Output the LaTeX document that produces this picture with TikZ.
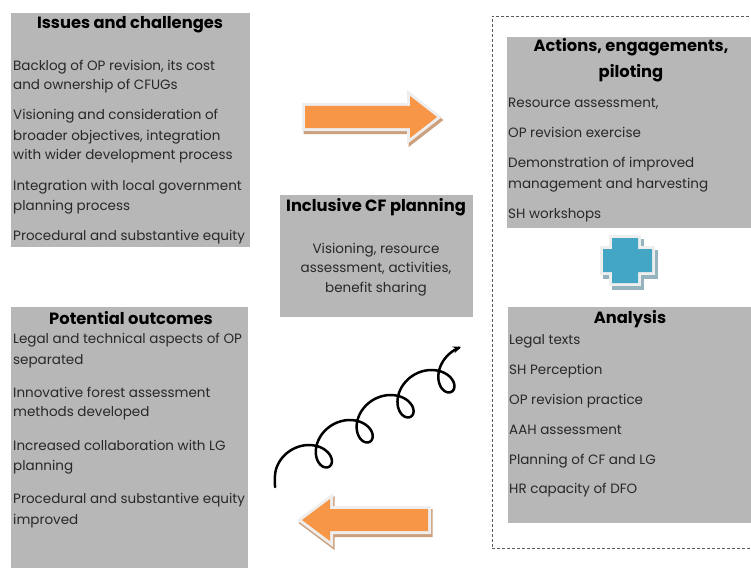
\documentclass[tikz,border=0pt]{standalone}
\usepackage{fontspec}
\setmainfont{Poppins}
\usetikzlibrary{arrows.meta}

\definecolor{boxgray}{RGB}{183,183,183}
\definecolor{txtgray}{RGB}{40,40,40}
\definecolor{arroworange}{RGB}{247,150,70}
\definecolor{arrowshade}{RGB}{205,160,125}
\definecolor{rimgray}{RGB}{238,238,238}
\definecolor{crossblue}{RGB}{66,166,196}
\definecolor{crossshade}{RGB}{150,180,190}
\definecolor{framegray}{RGB}{90,90,90}

\tikzset{
  panel/.style={fill=boxgray, draw=none, inner sep=0pt, anchor=north west},
  paneltitle/.style={font=\bfseries\fontsize{16.3}{18}\selectfont, text=black, inner sep=0pt},
  paneltext/.style={anchor=west, font=\fontsize{13.5}{15}\selectfont, text=txtgray, inner sep=0pt, text height=1.5ex, text depth=.25ex},
  fatarrow/.style={fill=arroworange, line join=miter,
    preaction={draw=arrowshade, fill=arrowshade, line width=6pt, line join=miter, transform canvas={shift={(1.5pt,-3pt)}}},
    preaction={draw=rimgray, line width=6pt, line join=miter}},
  plusshape/.style={fill=crossblue, line join=miter,
    preaction={draw=crossshade, fill=crossshade, line width=6pt, line join=miter, transform canvas={shift={(3pt,-4pt)}}},
    preaction={draw=rimgray, line width=6pt, line join=miter}},
  frame/.style={draw=framegray, line width=0.9pt, dash pattern=on 3pt off 2pt},
}

\begin{document}
\begin{tikzpicture}[x=1pt,y=-1pt]
\useasboundingbox (0,0) rectangle (751,567);
\clip (0,0) rectangle (751,567);

%issues
\node[panel, minimum width=239pt, minimum height=234pt] (issues) at (11,13) {};
\node[paneltitle] (issues-t) at (130,25) {Issues and challenges};
\foreach \y/\txt [count=\i] in {67/{Backlog of OP revision, its cost}, 86/{and ownership of CFUGs},
    116/{Visioning and consideration of}, 137/{broader objectives, integration}, 156/{with wider development process},
    187/{Integration with local government}, 207/{planning process}, 237/{Procedural and substantive equity}}
  \node[paneltext] (issues-\i) at (13,\y) {\txt};

%outcomes
\node[panel, minimum width=237pt, minimum height=270pt] (outcomes) at (11,307) {};
\node[paneltitle] (outcomes-t) at (131,318) {Potential outcomes};
\foreach \y/\txt [count=\i] in {340/{Legal and technical aspects of OP}, 361/{separated},
    394/{Innovative forest assessment}, 413/{methods developed},
    447/{Increased collaboration with LG}, 467/{planning},
    500/{Procedural and substantive equity}, 521/{improved}}
  \node[paneltext] (outcomes-\i) at (13,\y) {\txt};

%middle
\node[panel, minimum width=193pt, minimum height=122pt] (planning) at (280,195) {};
\node[paneltitle] (planning-t) at (376,207) {Inclusive CF planning};
\foreach \y/\txt [count=\i] in {250/{Visioning, resource}, 269/{assessment, activities,}, 289/{benefit sharing}}
  \node[paneltext, anchor=center] (planning-\i) at (376,\y) {\txt};

%dashed frame on the right
\node[frame, inner sep=0pt, anchor=north west, minimum width=280pt, minimum height=532pt] (frame) at (492,16) {};

%actions
\node[panel, minimum width=260pt, minimum height=191pt] (actions) at (507,37) {};
\node[paneltitle] (actions-t1) at (631,47) {Actions, engagements,};
\node[paneltitle] (actions-t2) at (631,73) {piloting};
\foreach \y/\txt [count=\i] in {104/{Resource assessment,}, 134/{OP revision exercise},
    164/{Demonstration of improved}, 185/{management and harvesting}, 215/{SH workshops}}
  \node[paneltext] (actions-\i) at (508,\y) {\txt};

%analysis
\node[panel, minimum width=260pt, minimum height=216pt] (analysis) at (508,307) {};
\node[paneltitle] (analysis-t) at (630,319) {Analysis};
\foreach \y/\txt [count=\i] in {341/{Legal texts}, 371/{SH Perception}, 401/{OP revision practice},
    431/{AAH assessment}, 461/{Planning of CF and LG}, 490/{HR capacity of DFO}}
  \node[paneltext] (analysis-\i) at (509,\y) {\txt};

%plus
\path[plusshape] (612,238) -- (638,238) -- (638,249) -- (652,249) -- (652,272) -- (638,272) -- (638,283)
  -- (612,283) -- (612,272) -- (603,272) -- (603,249) -- (612,249) -- cycle;

%big arrows
\path[fatarrow] (305,106) -- (410,106) -- (410,96) -- (437,117) -- (410,138) -- (410,128) -- (305,128) -- cycle;
\path[fatarrow] (428,509) -- (330,509) -- (330,499) -- (302,520) -- (330,541) -- (330,531) -- (428,531) -- cycle;

%spiral
\draw[line width=2.5pt, line cap=round, -{Stealth[length=8pt,width=7pt]}] (275,487) -- plot[domain=1.2:28.03, samples=300, smooth, variable=\t]
  ({283+6.5*\t-17*sin(\t r)}, {475-3.98*\t+17*cos(\t r)});

\end{tikzpicture}
\end{document}
